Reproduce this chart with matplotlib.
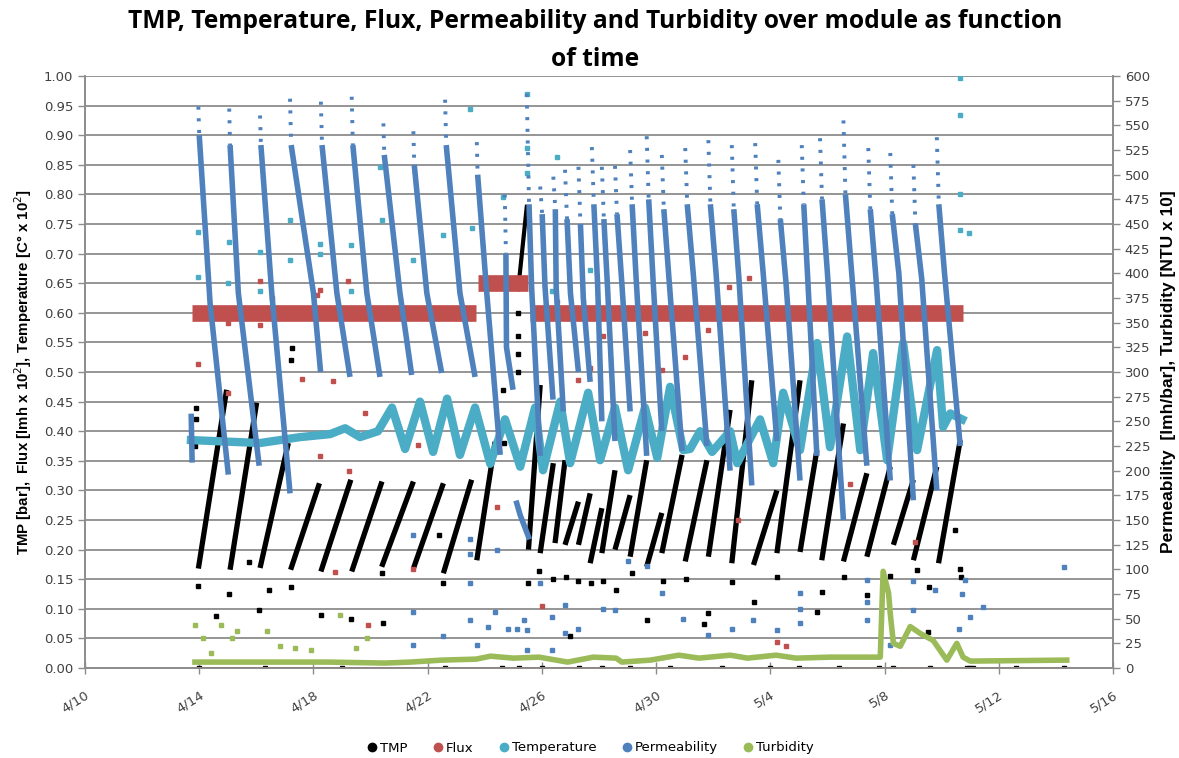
import numpy as np
import matplotlib
matplotlib.use("Agg")
import matplotlib.pyplot as plt
import matplotlib.dates as mdates
from matplotlib.lines import Line2D

# ---------------- data (time = days after 4/10 00:00) ----------------
BASE = np.datetime64("2014-04-10T00:00")
x_tick_days = [0, 4, 8, 12, 16, 20, 24, 28, 32, 36]
x_tick_labels = ["4/10", "4/14", "4/18", "4/22", "4/26", "4/30", "5/4", "5/8", "5/12", "5/16"]

# TMP filtration cycles [bar]: start/end of every rising run
tmp_t0 = [3.97, 5.08, 6.13, 7.20, 8.26, 9.34, 10.39, 11.50, 12.55, 13.72, 15.53, 15.94, 16.46, 16.81,
          17.28, 17.69, 18.10, 18.56, 19.09, 19.67, 20.20, 21.02, 21.83, 22.65, 23.41, 24.23, 25.04,
          25.80, 26.56, 27.38, 28.31, 29.01, 29.89]
tmp_v0 = [0.168, 0.166, 0.169, 0.166, 0.163, 0.163, 0.171, 0.168, 0.160, 0.182, 0.200, 0.194, 0.211,
          0.208, 0.208, 0.177, 0.194, 0.200, 0.188, 0.171, 0.194, 0.180, 0.188, 0.177, 0.174, 0.194,
          0.196, 0.182, 0.180, 0.188, 0.208, 0.182, 0.177]
tmp_t1 = [4.96, 6.01, 7.12, 8.21, 9.31, 10.40, 11.50, 12.55, 13.54, 14.36, 15.94, 16.40, 16.81, 17.28,
          17.69, 18.10, 18.56, 19.09, 19.67, 20.20, 20.91, 21.78, 22.59, 23.35, 24.23, 25.04, 25.63,
          26.56, 27.38, 28.20, 29.01, 29.83, 30.65]
tmp_v1 = [0.470, 0.448, 0.380, 0.312, 0.318, 0.315, 0.315, 0.312, 0.318, 0.382, 0.478, 0.346, 0.351,
          0.281, 0.295, 0.270, 0.334, 0.292, 0.351, 0.262, 0.360, 0.351, 0.436, 0.486, 0.300, 0.486,
          0.368, 0.413, 0.329, 0.340, 0.318, 0.340, 0.385]
# TMP excursion during the high-flux period
tmp_spike_t = [15.17, 15.47]
tmp_spike_v = [0.640, 0.779]
# isolated TMP points
tmp_pt_t = [3.85, 3.88, 3.90, 3.97, 4.60, 5.05, 5.74, 6.10, 6.45, 7.20, 7.23, 7.24, 8.26, 9.31, 10.39,
            10.43, 12.55, 12.38, 14.65, 14.66, 14.67, 15.17, 15.17, 15.53, 15.91, 16.38, 16.85, 17.28,
            17.71, 18.13, 18.59, 19.15, 19.67, 20.23, 16.97, 21.05, 21.83, 21.66, 22.65, 23.43, 24.25,
            25.63, 25.80, 26.58, 27.40, 28.20, 29.13, 29.57, 30.65, 30.68, 30.45, 29.52, 15.17, 15.16]
tmp_pt_v = [0.375, 0.420, 0.440, 0.139, 0.087, 0.125, 0.179, 0.098, 0.131, 0.137, 0.520, 0.540,
            0.090, 0.082, 0.160, 0.076, 0.144, 0.225, 0.470, 0.420, 0.380, 0.500, 0.560, 0.144, 0.164,
            0.150, 0.153, 0.147, 0.144, 0.147, 0.131, 0.161, 0.081, 0.147, 0.054, 0.150, 0.093, 0.074,
            0.146, 0.112, 0.153, 0.095, 0.129, 0.153, 0.123, 0.155, 0.166, 0.137, 0.168, 0.154, 0.233,
            0.060, 0.600, 0.530]
tmp_zero_t = [4.0, 6.3, 9.0, 12.6, 14.6, 15.2, 16.0, 17.3, 18.1, 19.1, 20.5, 22.3, 24.0, 25.0, 26.4,
              27.8, 28.3, 29.6, 30.9, 31.0, 31.1, 32.6, 34.3]
# flux band [lmh x 10^2]
flux_t0 = [3.75, 13.75, 15.58]
flux_t1 = [13.70, 15.50, 30.73]
flux_v = [0.600, 0.650, 0.600]
flux_zero_t = [3.9, 34.45]
flux_pt_t = [6.12, 6.56, 3.97, 5.02, 6.13, 7.59, 8.70, 9.22, 8.23, 8.11, 5.02, 8.23, 8.75, 9.23, 9.81,
             9.90, 11.67, 11.50, 14.42, 15.99, 27.39, 26.80, 22.88, 29.08, 24.23, 24.55, 23.24, 22.54,
             18.15, 19.61, 21.01, 21.83, 17.28, 17.69, 20.20, 16.52]
flux_pt_v = [0.653, 0.625, 0.514, 0.583, 0.579, 0.488, 0.484, 0.653, 0.639, 0.630, 0.464, 0.358,
             0.163, 0.332, 0.430, 0.073, 0.377, 0.168, 0.272, 0.104, 0.441, 0.311, 0.250, 0.213,
             0.044, 0.037, 0.658, 0.644, 0.560, 0.566, 0.526, 0.571, 0.486, 0.507, 0.503, 0.619]
# temperature [C x 10^2]
temp_t = [3.71, 6.13, 7.53, 8.58, 9.11, 9.63, 10.26, 10.75, 11.21, 11.73, 12.19, 12.68, 13.13, 13.66,
          14.19, 14.71, 15.24, 15.76, 16.04, 16.64, 16.99, 17.62, 18.04, 18.56, 19.02, 19.61, 20.04,
          20.49, 20.95, 21.19, 21.54, 21.96, 22.59, 22.84, 23.64, 24.10, 24.45, 25.04, 25.64, 26.09,
          26.69, 27.15, 27.60, 28.09, 28.65, 29.14, 29.84, 30.05, 30.30, 30.72]
temp_v = [0.385, 0.380, 0.390, 0.395, 0.405, 0.390, 0.400, 0.440, 0.370, 0.450, 0.365, 0.455, 0.360,
          0.440, 0.345, 0.420, 0.340, 0.440, 0.334, 0.450, 0.346, 0.465, 0.351, 0.440, 0.334, 0.440,
          0.355, 0.475, 0.368, 0.370, 0.400, 0.365, 0.400, 0.346, 0.420, 0.346, 0.465, 0.368, 0.549,
          0.373, 0.560, 0.368, 0.532, 0.351, 0.549, 0.368, 0.537, 0.407, 0.430, 0.420]
temp_pt_t = [3.97, 3.97, 5.05, 5.02, 6.13, 6.13, 7.18, 7.18, 8.23, 8.23, 9.31, 9.31, 10.33, 15.47,
             15.47, 15.47, 14.65, 13.48, 16.52, 16.35, 17.69, 10.39, 12.55, 11.48, 13.54, 30.65,
             30.65, 30.65, 30.94, 30.65]
temp_pt_v = [0.737, 0.661, 0.720, 0.650, 0.703, 0.636, 0.757, 0.689, 0.717, 0.700, 0.715, 0.636,
             0.847, 0.970, 0.878, 0.836, 0.796, 0.944, 0.864, 0.636, 0.672, 0.757, 0.731, 0.689,
             0.743, 0.934, 0.800, 0.740, 0.734, 0.997]
# permeability [lmh/bar] per cycle: sparse top -> dense start -> mid -> end
perm_t_top = [3.97, 5.05, 6.13, 7.18, 8.26, 9.34, 10.45, 11.50, 12.61, 13.72, 14.70, 15.47, 15.94,
              16.40, 16.81, 17.28, 17.75, 18.10, 18.56, 19.09, 19.67, 20.20, 21.02, 21.83, 22.65,
              23.47, 24.28, 25.10, 25.74, 26.56, 27.43, 28.20, 29.01, 29.83]
perm_top = [569, 567, 560, 577, 574, 579, 552, 544, 576, 533, 480, 582, 488, 498, 505, 508, 528, 508,
            509, 525, 539, 520, 527, 535, 530, 532, 515, 530, 537, 555, 527, 522, 510, 538]
perm_t_dense = [4.00, 5.08, 6.16, 7.22, 8.30, 9.38, 10.48, 11.53, 12.65, 13.75, 14.74, 15.55, 16.01,
                16.47, 16.88, 17.35, 17.82, 18.17, 18.63, 19.16, 19.74, 20.27, 21.09, 21.90, 22.72,
                23.54, 24.35, 25.17, 25.81, 26.63, 27.50, 28.27, 29.08, 29.90]
perm_dense = [540, 530, 530, 530, 530, 530, 520, 510, 530, 500, 420, 470, 460, 465, 455, 450, 470,
              455, 460, 470, 475, 465, 470, 470, 465, 470, 455, 470, 475, 480, 465, 460, 450, 470]
perm_t_mid = [4.38, 5.37, 6.54, 8.00, 8.82, 9.87, 11.03, 11.97, 13.13, 14.07, 14.76, 15.64, 16.11,
              16.50, 17.00, 17.45, 17.95, 18.30, 18.80, 19.30, 19.90, 20.45, 21.30, 22.10, 22.90,
              23.75, 24.55, 25.30, 26.00, 26.85, 27.70, 28.50, 29.30, 30.10]
perm_mid = [370, 380, 380, 380, 380, 380, 380, 380, 380, 380, 325, 386, 386, 386, 380, 375, 390,
            385, 390, 395, 390, 395, 400, 400, 395, 400, 390, 400, 400, 400, 395, 400, 395, 400]
perm_t_end = [5.02, 6.10, 7.18, 8.25, 9.28, 10.33, 11.44, 12.49, 13.66, 14.54, 14.99, 15.94, 16.39,
              16.75, 17.28, 17.69, 18.10, 18.56, 19.09, 19.67, 20.20, 20.91, 21.78, 22.59, 23.35,
              24.23, 25.04, 25.63, 26.56, 27.38, 28.20, 29.01, 29.83, 30.65]
perm_end = [196, 205, 177, 300, 295, 295, 297, 299, 295, 216, 282, 215, 272, 260, 300, 290, 250,
            230, 260, 215, 240, 220, 225, 200, 185, 230, 190, 215, 150, 205, 190, 170, 180, 225]
perm_seg_t = [3.72, 3.75, 15.12, 15.24, 15.53]
perm_seg_v = [255, 211, 167, 155, 133]
perm_pt_t = [11.50, 11.50, 11.50, 12.55, 13.48, 13.48, 13.48, 13.48, 13.72, 14.12, 14.36, 14.42,
             14.83, 15.12, 15.36, 15.47, 15.47, 15.94, 16.35, 16.35, 16.81, 16.81, 17.28, 18.15, 18.56,
             19.03, 19.67, 20.20, 20.95, 21.83, 22.65, 23.41, 24.23, 25.04, 25.04, 25.04, 27.38, 27.38,
             27.38, 28.20, 29.01, 29.01, 29.77, 30.82, 31.00, 31.46, 30.59, 30.72, 34.30]
perm_pt_v = [135, 57, 23, 32, 131, 116, 86, 49, 23, 42, 57, 120, 40, 40, 49, 39, 18, 86, 52, 18, 64,
             35, 40, 60, 59, 108, 103, 76, 50, 33, 40, 49, 39, 76, 60, 46, 89, 67, 49, 23, 88, 59,
             79, 89, 52, 62, 40, 75, 102]
# turbidity [NTU x 10]
turb_t = [3.85, 6.0, 8.5, 10.5, 11.4, 12.5, 13.7, 14.2, 15.0, 15.9, 16.9, 17.8, 18.6, 18.8, 19.8,
          20.8, 21.5, 22.6, 23.2, 24.2, 24.9, 26.1, 27.85, 27.95, 28.14, 28.20, 28.31, 28.55, 28.90,
          29.25, 29.70, 30.18, 30.53, 30.75, 31.00, 34.38]
turb_v = [6, 6, 6, 5, 6, 8, 9, 12, 10, 11, 6, 11, 10, 6, 8, 13, 10, 13, 10, 13, 10, 11, 11, 98, 76,
          55, 25, 22, 42, 35, 28, 8, 25, 11, 7, 8]
turb_pt_t = [3.85, 4.12, 4.75, 5.16, 5.31, 6.36, 6.83, 7.36, 8.93, 9.87, 9.50, 4.40, 7.90]
turb_pt_v = [44, 30, 44, 30, 37, 38, 22, 20, 54, 30, 20, 15, 18]

# ---------------- styling ----------------
C_TMP, C_FLUX, C_TEMP, C_PERM, C_TURB = "#000000", "#C0504D", "#4BACC6", "#4F81BD", "#9BBB59"


def d(days):
    return mdates.date2num(BASE) + np.asarray(days, dtype=float)


def segments(*pairs):
    """pairs = (t_a, v_a, t_b, v_b, ...) -> polylines separated by NaN"""
    ts, vs = pairs[0::2], pairs[1::2]
    xs, ys = [], []
    for i in range(len(ts[0])):
        xs += [t[i] for t in ts] + [np.nan]
        ys += [v[i] for v in vs] + [np.nan]
    return d(xs), np.array(ys, dtype=float)


plt.rcParams["font.family"] = ["DejaVu Sans"]
fig = plt.figure(figsize=(11.79, 7.58), dpi=100)
ax = fig.add_axes([85 / 1179, 1 - 668 / 758, (1113 - 85) / 1179, (668 - 76) / 758])
ax2 = ax.twinx()

GRID = "#8c8c8c"
ax.set_ylim(0, 1.0)
ax2.set_ylim(0, 600)
ax.set_xlim(d(0), d(36))
ax.set_yticks(np.arange(0, 1.0001, 0.05))
ax.set_yticklabels([f"{v:.2f}" for v in np.arange(0, 1.0001, 0.05)])
ax2.set_yticks(np.arange(0, 601, 25))
ax.set_xticks(d(x_tick_days))
ax.set_xticklabels(x_tick_labels, rotation=32, ha="right", rotation_mode="anchor")
ax.yaxis.grid(True, color=GRID, lw=1.3)
ax.set_axisbelow(True)
for a in (ax, ax2):
    for s in a.spines.values():
        s.set_color(GRID)
        s.set_linewidth(1.2)
    a.spines["top"].set_visible(False)
    a.tick_params(colors="#404040", labelsize=9.5, length=5, width=1, direction="out")
    a.tick_params(axis="both", color=GRID)
ax.tick_params(axis="x", direction="inout", length=9, pad=10)

ax.set_ylabel("TMP [bar],  Flux [lmh x 10$^{2}$], Temperature [C° x 10$^{2}$]",
              fontsize=10.8, fontweight="bold", family=["Liberation Sans Narrow", "Liberation Sans"],
              labelpad=7)
ax2.set_ylabel("Permeability  [lmh/bar], Turbidity [NTU x 10]", fontsize=12.5, fontweight="bold",
               family=["Liberation Sans Narrow", "Liberation Sans"], labelpad=8)
fig.text(0.505, 1 - 22 / 758,
         "TMP, Temperature, Flux, Permeability and Turbidity over module as function",
         ha="center", va="center", fontsize=17.7, fontweight="bold", family=["Open Sans", "DejaVu Sans"])
fig.text(0.505, 1 - 59 / 758, "of time", ha="center", va="center", fontsize=17.7,
         fontweight="bold", family=["Open Sans", "DejaVu Sans"])

# ---- TMP ----
x, y = segments(tmp_t0, tmp_v0, tmp_t1, tmp_v1)
ax.plot(x, y, color=C_TMP, lw=3.8, solid_capstyle="butt", zorder=2)
ax.plot(d(tmp_spike_t), tmp_spike_v, color=C_TMP, lw=3.0, zorder=2)
ax.plot(d(tmp_pt_t), tmp_pt_v, "s", color=C_TMP, ms=2.8, zorder=2)
ax.plot(d(tmp_zero_t), np.zeros(len(tmp_zero_t)), "s", color=C_TMP, ms=2.8, zorder=2)

# ---- Flux ----
x, y = segments(flux_t0, flux_v, flux_t1, flux_v)
ax.plot(x, y, color=C_FLUX, lw=12, solid_capstyle="butt", zorder=3)
ax.plot(d(flux_zero_t), [0, 0], color=C_FLUX, lw=2, zorder=3)
ax.plot(d(flux_pt_t), flux_pt_v, "s", color=C_FLUX, ms=2.6, zorder=3)

# ---- Temperature ----
ax.plot(d(temp_t), temp_v, color=C_TEMP, lw=6, solid_joinstyle="round", zorder=4)
ax.plot(d(temp_pt_t), temp_pt_v, "s", color=C_TEMP, ms=2.6, zorder=4)

# ---- Permeability (secondary axis) ----
x, y = segments(perm_t_top, perm_top, perm_t_dense, perm_dense)
ax2.plot(x, y, color=C_PERM, lw=2.8, ls=(0, (0.8, 2.2)), zorder=5)
x, y = segments(perm_t_dense, perm_dense, perm_t_mid, perm_mid, perm_t_end, perm_end)
ax2.plot(x, y, color=C_PERM, lw=4.0, solid_capstyle="butt", solid_joinstyle="round", zorder=5)
ax2.plot(d(perm_seg_t[:2]), perm_seg_v[:2], color=C_PERM, lw=4, zorder=5)
ax2.plot(d(perm_seg_t[2:]), perm_seg_v[2:], color=C_PERM, lw=4, zorder=5)
ax2.plot(d(perm_pt_t), perm_pt_v, "s", color=C_PERM, ms=2.6, zorder=5)

# ---- Turbidity ----
ax2.plot(d(turb_t), turb_v, color=C_TURB, lw=4, solid_joinstyle="round", zorder=6)
ax2.plot(d(turb_pt_t), turb_pt_v, "s", color=C_TURB, ms=2.6, zorder=6)

# ---- legend ----
names = ["TMP", "Flux", "Temperature", "Permeability", "Turbidity"]
cols = [C_TMP, C_FLUX, C_TEMP, C_PERM, C_TURB]
handles = [Line2D([], [], ls="none", marker="o", ms=6, color=c) for c in cols]
fig.legend(handles, names, loc="center", bbox_to_anchor=(0.5, 1 - 748 / 758), ncol=5,
           frameon=False, fontsize=9.5, handletextpad=0.1, columnspacing=1.8,
           handlelength=1.0)

fig.savefig("out.png", dpi=100)
